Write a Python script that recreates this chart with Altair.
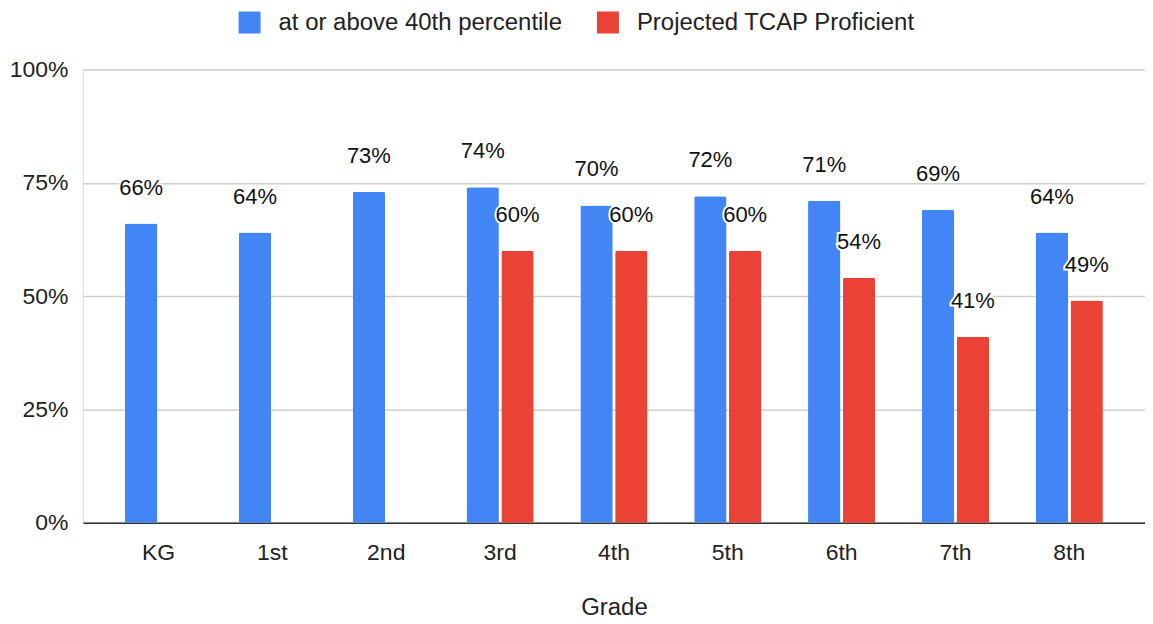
import altair as alt
import pandas as pd

grades = ["KG", "1st", "2nd", "3rd", "4th", "5th", "6th", "7th", "8th"]
above_40th = [0.66, 0.64, 0.73, 0.74, 0.70, 0.72, 0.71, 0.69, 0.64]
tcap_grades = ["3rd", "4th", "5th", "6th", "7th", "8th"]
tcap_proficient = [0.60, 0.60, 0.60, 0.54, 0.41, 0.49]
series_names = ["at or above 40th percentile", "Projected TCAP Proficient"]
series_colors = ["#4285F4", "#EA4335"]

rows = [{"Grade": g, "Series": series_names[0], "Value": v} for g, v in zip(grades, above_40th)]
rows += [{"Grade": g, "Series": series_names[1], "Value": v} for g, v in zip(tcap_grades, tcap_proficient)]
df = pd.DataFrame(rows)

FONT = "Liberation Sans"

x = alt.X("Grade:N", sort=grades, title="Grade",
          scale=alt.Scale(paddingInner=0.41, paddingOuter=0.37),
          axis=alt.Axis(labelAngle=0, labelFontSize=23, labelFont=FONT, labelColor="#222",
                        titleFontSize=24, titleFont=FONT, titleColor="#222", titleFontWeight="normal",
                        titlePadding=31, labelPadding=19, ticks=False,
                        domainColor="#333", domainWidth=1.5))
xo = alt.XOffset("Series:N", sort=series_names, scale=alt.Scale(paddingInner=0.07))
y = alt.Y("Value:Q", scale=alt.Scale(domain=[0, 1]),
          axis=alt.Axis(values=[0, 0.25, 0.5, 0.75, 1], format=".0%", title=None,
                        labelFontSize=23, labelFont=FONT, labelColor="#222", labelPadding=15,
                        ticks=False, domain=False, gridColor="#d0d0d0", gridWidth=1.5))
color = alt.Color("Series:N", sort=series_names,
                  scale=alt.Scale(domain=series_names, range=series_colors),
                  legend=alt.Legend(title=None, orient="none", direction="horizontal",
                                    legendX=155, legendY=-59, symbolType="square",
                                    symbolSize=484, symbolStrokeWidth=0, labelFontSize=24,
                                    labelFont=FONT, labelColor="#222", labelOffset=17,
                                    labelLimit=1000, columnPadding=33))

base = alt.Chart(df)
bars = base.mark_bar(cornerRadiusTopLeft=2, cornerRadiusTopRight=2).encode(
    x=x, xOffset=xo, y=y, color=color)
halo = base.mark_text(font=FONT, fontSize=22, baseline="alphabetic", dy=-29,
                      stroke="white", strokeWidth=4, fill="white").encode(
    x=x, xOffset=xo, y=y, text=alt.Text("Value:Q", format=".0%"))
labels = base.mark_text(font=FONT, fontSize=22, baseline="alphabetic", dy=-29,
                        color="#111").encode(
    x=x, xOffset=xo, y=y, text=alt.Text("Value:Q", format=".0%"))

chart = alt.layer(bars, halo, labels).properties(
    width=1064, height=454,
    autosize=alt.AutoSizeParams(type="none"),
    padding={"left": 75, "top": 61, "right": 0, "bottom": 100},
).configure_view(stroke=None).configure(font=FONT)

chart.save("out.html", embed_options={"renderer": "svg", "actions": False})
